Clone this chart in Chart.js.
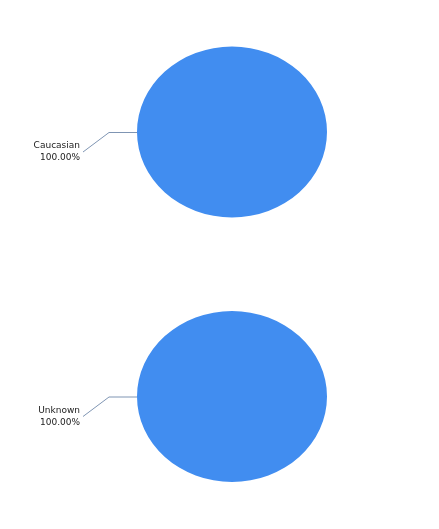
<!DOCTYPE html>
<html>
<head>
<meta charset="utf-8">
<script src="https://cdn.jsdelivr.net/npm/chart.js@4"></script>
<style>
  html, body { margin: 0; padding: 0; background: #fff; }
  .box { width: 439px; height: 265px; position: relative; }
  .box.second { height: 264px; }
</style>
</head>
<body>
<div class="box"><canvas id="raceChart"></canvas></div>
<div class="box second"><canvas id="unknownChart"></canvas></div>
<script>
const raceLabels = ['Caucasian'];
const raceValues = [100];
const unknownLabels = ['Unknown'];
const unknownValues = [100];
const sliceColors = ['#418df0'];

// google-style pies are a bit flattened
const squash = {
  id: 'squash',
  beforeDatasetsDraw(chart) {
    const a = chart.chartArea;
    const cx = (a.left + a.right) / 2, cy = (a.top + a.bottom) / 2;
    chart.ctx.save();
    chart.ctx.translate(cx, cy);
    chart.ctx.scale(1, 0.9);
    chart.ctx.translate(-cx, -cy);
  },
  afterDatasetsDraw(chart) {
    chart.ctx.restore();
  }
};

// leader line + label on the left side
const leader = {
  id: 'leader',
  afterDraw(chart) {
    const ctx = chart.ctx;
    const arc = chart.getDatasetMeta(0).data[0];
    if (!arc) return;
    const values = chart.data.datasets[0].data;
    const total = values.reduce((s, v) => s + v, 0);
    const pct = (values[0] / total * 100).toFixed(2) + '%';
    const x0 = arc.x - arc.outerRadius;
    const y0 = arc.y;
    ctx.save();
    ctx.strokeStyle = '#7f95b3';
    ctx.lineWidth = 1;
    ctx.beginPath();
    ctx.moveTo(x0, y0 + 0.5);
    ctx.lineTo(x0 - 28, y0 + 0.5);
    ctx.lineTo(x0 - 54, y0 + 20);
    ctx.stroke();
    ctx.fillStyle = '#222';
    ctx.font = '9px "DejaVu Sans"';
    ctx.textAlign = 'right';
    ctx.textBaseline = 'middle';
    ctx.fillText(chart.data.labels[0], x0 - 57, y0 + 14);
    ctx.fillText(pct, x0 - 57, y0 + 26);
    ctx.restore();
  }
};

function makePie(id, labels, values) {
  return new Chart(document.getElementById(id), {
    type: 'pie',
    data: {
      labels: labels,
      datasets: [{
        data: values,
        backgroundColor: sliceColors,
        borderWidth: 0,
        radius: 95
      }]
    },
    options: {
      responsive: true,
      maintainAspectRatio: false,
      animation: false,
      layout: { padding: { left: 25, right: 0, top: 0, bottom: 1 } },
      plugins: {
        legend: { display: false },
        tooltip: { enabled: false }
      }
    },
    plugins: [squash, leader]
  });
}

makePie('raceChart', raceLabels, raceValues);
makePie('unknownChart', unknownLabels, unknownValues);
</script>
</body>
</html>
